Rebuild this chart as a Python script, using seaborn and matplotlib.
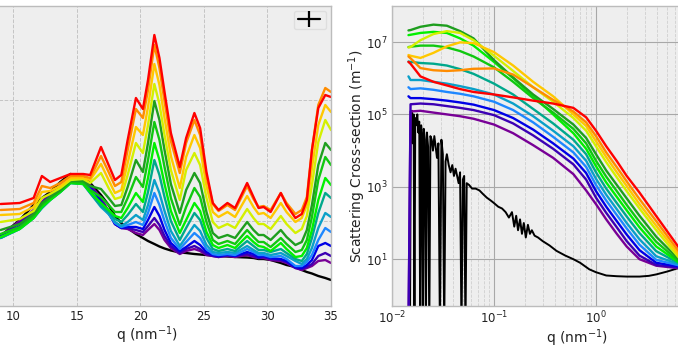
import numpy as np
import pandas as pd
import matplotlib
matplotlib.use("Agg")
import matplotlib.pyplot as plt
import seaborn as sns
from matplotlib.lines import Line2D
from matplotlib.ticker import FixedLocator, NullFormatter, NullLocator, LogFormatterSciNotation

# ---------------- data ----------------
samples = ["black", "purple", "indigo", "blue", "dodger", "cyan", "teal",
           "lime", "green", "darkgreen", "yellowgreen", "gold", "orange", "red"]
colors = ["#000000", "#780096", "#3c00b4", "#0000e6", "#1e88ff", "#0aa0c8", "#00a88c",
          "#00f000", "#10c810", "#1e9e1e", "#d4f000", "#ffc800", "#ff8c00", "#ff0000"]

# WAXS panel (left), intensity in arbitrary units
q_waxs = [9.0, 10.5, 11.6, 12.25, 12.9, 13.7, 14.5, 15.5, 16.05, 16.9, 17.5, 18.0, 18.5, 19.0,
          19.65, 20.2, 20.6, 21.1, 21.5, 21.9, 22.4, 23.1, 23.6, 24.25, 24.7, 25.2, 25.7, 26.15,
          26.85, 27.45, 28.4, 28.9, 29.3, 29.7, 30.25, 31.05, 31.5, 32.2, 32.7, 33.1, 33.5, 34.0,
          34.55, 35.0]
waxs_red = [138, 139, 144, 166, 160, 164, 168, 168, 167, 195, 177, 162, 167, 202, 244, 233, 262, 307,
            284, 250, 209, 175, 204, 229, 214, 170, 139, 132, 139, 134, 159, 145, 134, 135, 130, 149,
            137, 124, 128, 142, 192, 234, 247, 245]
waxs_orange = [132, 133, 139, 156, 154, 159, 166, 166, 164, 186, 170, 156, 160, 192, 233, 224, 252, 297,
               274, 241, 201, 169, 199, 222, 207, 166, 138, 131, 137, 132, 156, 143, 135, 136, 132, 149,
               139, 128, 132, 145, 192, 237, 254, 250]
waxs_gold = [127, 128, 135, 150, 151, 156, 164, 164, 162, 178, 162, 149, 152, 179, 215, 207, 235, 278,
             257, 224, 186, 154, 185, 207, 194, 156, 130, 125, 130, 125, 146, 135, 128, 129, 124, 139,
             130, 120, 124, 137, 174, 217, 237, 230]
waxs_yellowgreen = [120, 123, 131, 144, 148, 154, 162, 163, 159, 169, 154, 143, 145, 167, 199, 189, 217,
                    258, 238, 207, 172, 142, 172, 189, 177, 144, 120, 114, 118, 114, 133, 124, 118, 118,
                    113, 126, 118, 109, 113, 126, 157, 200, 222, 212]
waxs_darkgreen = [112, 118, 128, 139, 145, 152, 161, 161, 156, 153, 144, 136, 137, 155, 182, 170, 199,
                  241, 222, 192, 158, 129, 152, 169, 159, 130, 109, 104, 107, 104, 120, 112, 107, 107,
                  102, 112, 105, 97, 100, 112, 137, 177, 199, 192]
waxs_green = [108, 115, 126, 137, 144, 151, 160, 159, 152, 145, 137, 130, 130, 144, 165, 155, 182, 220,
              202, 175, 144, 117, 135, 154, 145, 120, 102, 98, 101, 98, 112, 105, 100, 100, 95, 104,
              98, 90, 92, 102, 125, 162, 185, 177]
waxs_lime = [105, 113, 124, 135, 142, 150, 159, 158, 150, 139, 132, 126, 124, 134, 149, 140, 164, 199,
             182, 158, 131, 109, 122, 139, 131, 110, 97, 94, 97, 94, 106, 100, 96, 95, 91, 99, 93, 85,
             86, 94, 112, 142, 164, 157]
waxs_teal = [104, 113, 124, 134, 142, 150, 159, 158, 149, 136, 130, 123, 120, 127, 138, 130, 150, 182,
             167, 145, 121, 102, 114, 129, 122, 104, 93, 91, 93, 91, 101, 96, 92, 92, 90, 93, 89, 83,
             81, 88, 104, 129, 149, 144]
waxs_cyan = [104, 113, 124, 134, 142, 150, 159, 158, 149, 135, 128, 120, 116, 120, 127, 122, 137, 162,
             149, 131, 111, 96, 105, 117, 111, 97, 90, 89, 90, 89, 96, 92, 89, 89, 87, 89, 86, 81, 78,
             83, 94, 114, 129, 125]
waxs_dodger = [104, 114, 125, 135, 143, 151, 160, 159, 152, 137, 128, 119, 115, 117, 120, 117, 129, 149,
               137, 121, 104, 93, 100, 109, 104, 93, 88, 87, 88, 87, 93, 90, 87, 87, 85, 86, 83, 76, 76,
               80, 87, 102, 114, 110]
waxs_blue = [105, 116, 127, 137, 145, 153, 162, 160, 154, 140, 129, 118, 114, 115, 115, 113, 122, 135,
             126, 112, 99, 91, 95, 101, 97, 90, 87, 86, 87, 86, 90, 88, 85, 86, 84, 83, 81, 75, 74, 77,
             82, 96, 99, 96]
waxs_indigo = [106, 119, 130, 139, 147, 155, 164, 161, 156, 142, 130, 118, 114, 114, 112, 110, 116, 124,
               117, 106, 96, 89, 93, 96, 93, 88, 86, 85, 87, 86, 88, 86, 84, 85, 83, 82, 80, 74, 73, 75,
               78, 86, 89, 86]
waxs_purple = [106, 121, 132, 140, 148, 156, 166, 162, 157, 144, 131, 118, 114, 113, 109, 107, 112, 118,
               112, 102, 94, 88, 91, 93, 91, 87, 86, 85, 86, 85, 87, 85, 84, 84, 82, 81, 79, 74, 72, 74,
               76, 81, 82, 79]
waxs_black = [106, 122, 137, 144, 150, 160, 168, 165, 159, 147, 137, 126, 119, 114, 108, 104, 101, 98,
              95.5, 93.5, 91.5, 89.5, 89, 88, 87.5, 87, 86.5, 86, 85.5, 85, 84.5, 84, 83, 83, 82, 79,
              77, 75, 72, 70, 68.5, 66, 64, 62]

# SANS panel (right): log10 of scattering cross-section (m^-1)
q_saxs = [0.0145, 0.0152, 0.019, 0.0255, 0.0345, 0.0465, 0.063, 0.1, 0.154, 0.242, 0.38, 0.6, 0.8,
          1.0, 1.26, 1.6, 2.0, 2.67, 3.9, 6.5]
saxs_red = [6.45, 6.40, 6.05, 5.90, 5.80, 5.70, 5.62, 5.55, 5.47, 5.38, 5.30, 5.18, 4.92, 4.55, 4.12,
            3.71, 3.30, 2.84, 2.19, 1.32]
saxs_orange = [6.60, 6.55, 6.28, 6.22, 6.20, 6.22, 6.26, 6.27, 6.10, 5.75, 5.40, 5.08, 4.78, 4.40, 3.95,
               3.54, 3.15, 2.66, 2.05, 1.21]
saxs_gold = [6.64, 6.62, 6.56, 6.70, 6.88, 6.99, 6.97, 6.72, 6.35, 5.90, 5.50, 5.00, 4.68, 4.26, 3.82,
             3.40, 3.02, 2.52, 1.92, 1.12]
saxs_yellowgreen = [6.85, 6.86, 7.05, 7.22, 7.30, 7.25, 7.05, 6.62, 6.20, 5.75, 5.35, 4.90, 4.55, 4.12,
                    3.68, 3.26, 2.88, 2.40, 1.80, 1.04]
saxs_darkgreen = [7.32, 7.33, 7.42, 7.48, 7.45, 7.30, 7.10, 6.50, 6.02, 5.55, 5.15, 4.72, 4.35, 3.90,
                  3.45, 3.05, 2.68, 2.20, 1.62, 0.99]
saxs_green = [6.86, 6.87, 6.90, 6.90, 6.85, 6.75, 6.60, 6.30, 5.90, 5.45, 5.05, 4.60, 4.20, 3.72, 3.28,
              2.88, 2.50, 2.03, 1.48, 0.94]
saxs_lime = [7.19, 7.20, 7.25, 7.28, 7.25, 7.10, 6.90, 6.45, 6.00, 5.50, 5.00, 4.48, 4.05, 3.57, 3.12,
             2.72, 2.35, 1.88, 1.35, 0.91]
saxs_teal = [6.46, 6.45, 6.42, 6.40, 6.35, 6.25, 6.12, 5.85, 5.55, 5.15, 4.75, 4.30, 3.90, 3.40, 2.95,
             2.55, 2.18, 1.72, 1.22, 0.89]
saxs_cyan = [6.05, 5.95, 5.95, 5.90, 5.85, 5.78, 5.70, 5.55, 5.30, 4.95, 4.55, 4.12, 3.72, 3.22, 2.78,
             2.38, 2.00, 1.55, 1.08, 0.86]
saxs_dodger = [5.75, 5.70, 5.72, 5.68, 5.62, 5.57, 5.50, 5.35, 5.12, 4.78, 4.38, 3.95, 3.55, 3.05, 2.62,
               2.22, 1.85, 1.40, 0.98, 0.83]
saxs_blue = [5.50, 5.45, 5.45, 5.42, 5.38, 5.33, 5.27, 5.12, 4.90, 4.58, 4.20, 3.78, 3.38, 2.88, 2.45,
             2.05, 1.68, 1.25, 0.90, 0.80]
saxs_indigo = [-1.0, 5.28, 5.30, 5.28, 5.23, 5.18, 5.12, 4.98, 4.75, 4.42, 4.05, 3.62, 3.20, 2.70, 2.28,
               1.88, 1.50, 1.10, 0.84, 0.77]
saxs_purple = [-1.0, 5.08, 5.10, 5.05, 5.00, 4.95, 4.88, 4.72, 4.48, 4.15, 3.80, 3.35, 2.90, 2.52, 2.10,
               1.70, 1.35, 1.00, 0.82, 0.75]

q_saxs_black = [0.0150, 0.0153, 0.0157, 0.0160, 0.0163, 0.0166, 0.0169, 0.0173, 0.0177, 0.0181, 0.0185,
                0.0189, 0.0193, 0.0197, 0.0201, 0.0205, 0.0210, 0.0215, 0.0220, 0.0226, 0.0232, 0.0238,
                0.0245, 0.0252, 0.0260, 0.0268, 0.0276, 0.0285, 0.0295, 0.0305, 0.0315, 0.0325, 0.0335,
                0.0345, 0.0360, 0.0375, 0.0390, 0.0405, 0.0420, 0.0435, 0.0450, 0.0465, 0.0480, 0.0495,
                0.0510, 0.0525, 0.0540, 0.0570, 0.0610, 0.0660, 0.0720, 0.0780, 0.0850, 0.0930, 0.100,
                0.110, 0.120, 0.130, 0.140, 0.150, 0.158, 0.165, 0.172, 0.180, 0.188, 0.196, 0.205,
                0.215, 0.225, 0.235, 0.250, 0.27, 0.30, 0.35, 0.41, 0.5, 0.6, 0.7, 0.86, 1.0, 1.26,
                1.6, 2.0, 2.67, 3.3, 3.9, 5.0, 6.5]
saxs_black = [-1.0, 4.9, 5.1, 4.2, 5.0, -1.0, 4.9, 4.7, 5.0, 4.5, 4.8, -1.0, 4.7, 4.4, -1.0, 4.6, 4.3,
              -1.0, 4.5, 4.1, -1.0, 4.4, 4.3, 4.0, 4.4, 4.1, 3.8, 4.2, -1.0, 4.3, 3.9, -1.0, 3.7, 3.9,
              3.6, 3.4, 3.6, 3.3, 3.5, 3.3, 3.1, 3.4, -1.0, 3.2, 3.3, -1.0, 3.1, 3.05, 2.95, 2.95, 2.9,
              2.8, 2.7, 2.62, 2.55, 2.45, 2.4, 2.3, 2.15, 2.3, 1.9, 2.2, 1.8, 2.1, 1.7, 2.0, 1.6, 1.95,
              1.7, 1.8, 1.65, 1.6, 1.5, 1.38, 1.23, 1.1, 1.0, 0.9, 0.72, 0.64, 0.55, 0.53, 0.52, 0.52,
              0.54, 0.58, 0.66, 0.76]

# ---------------- tables ----------------
waxs_series = dict(black=waxs_black, purple=waxs_purple, indigo=waxs_indigo, blue=waxs_blue,
                   dodger=waxs_dodger, cyan=waxs_cyan, teal=waxs_teal, lime=waxs_lime,
                   green=waxs_green, darkgreen=waxs_darkgreen, yellowgreen=waxs_yellowgreen,
                   gold=waxs_gold, orange=waxs_orange, red=waxs_red)
saxs_series = dict(purple=saxs_purple, indigo=saxs_indigo, blue=saxs_blue, dodger=saxs_dodger,
                   cyan=saxs_cyan, teal=saxs_teal, lime=saxs_lime, green=saxs_green,
                   darkgreen=saxs_darkgreen, yellowgreen=saxs_yellowgreen, gold=saxs_gold,
                   orange=saxs_orange, red=saxs_red)

df_w = pd.concat([pd.DataFrame({"q": q_waxs, "I": v, "sample": k}) for k, v in waxs_series.items()])
df_s = pd.concat([pd.DataFrame({"q": q_saxs, "S": 10.0 ** np.array(v), "sample": k})
                  for k, v in saxs_series.items()])
df_b = pd.DataFrame({"q": q_saxs_black, "S": 10.0 ** np.array(saxs_black)})
pal = dict(zip(samples, colors))

# ---------------- style ----------------
sns.set_theme(style="darkgrid")
plt.rcParams.update({
    "font.family": ["DejaVu Sans"],
    "axes.facecolor": "#eeeeee",
    "axes.edgecolor": "#bcbcbc",
    "axes.linewidth": 1.0,
    "xtick.direction": "in",
    "ytick.direction": "in",
    "xtick.labelsize": 8.5,
    "ytick.labelsize": 8.5,
})

W, H = 678, 352
fig = plt.figure(figsize=(W / 100, H / 100), dpi=100)
fig.patch.set_facecolor("white")

# left axes: q 6..35 ; pixel 10->13.3, 35->331
px_per_q = (331 - 13.3) / 25
left_px = 13.3 - 4 * px_per_q
ax1 = fig.add_axes([left_px / W, (H - 306) / H, (331 - left_px) / W, 300 / H])
# right axes: log q; 102 px per decade starting at 392
dec_px = 102.0
x_hi = 10 ** (np.log10(0.01) + (761 - 392) / dec_px)
ax2 = fig.add_axes([392 / W, (H - 306) / H, (761 - 392) / W, 300 / H])

for ax in (ax1, ax2):
    ax.set_facecolor("#eeeeee")
    for s in ax.spines.values():
        s.set_visible(True)
        s.set_color("#bcbcbc")
        s.set_linewidth(1.0)
    ax.tick_params(which="both", direction="in", length=3.5, width=0.8, color="#555555",
                   labelcolor="#222222", pad=3)

# ---- left panel ----
sns.lineplot(data=df_w, x="q", y="I", hue="sample", hue_order=samples, palette=pal,
             estimator=None, sort=False, lw=1.7, legend=False, ax=ax1)
ax1.set_xlim(6, 35)
ax1.set_ylim(36, 336)
ax1.xaxis.set_major_locator(FixedLocator([10, 15, 20, 25, 30, 35]))
ax1.yaxis.set_major_locator(FixedLocator([121, 242]))
ax1.tick_params(axis="y", labelleft=False)
ax1.grid(True, which="major", color="#c4c4c4", linestyle="--", linewidth=0.7)
ax1.set_xlabel("q (nm$^{-1}$)", fontsize=10, color="#222222")
ax1.xaxis.set_label_coords(0.5, -0.06)
ax1.set_ylabel("")
h = Line2D([], [], color="black", lw=1.6, marker="|", markersize=11, markeredgewidth=1.6)
leg = ax1.legend(handles=[h], labels=[""], loc="upper right", fontsize=8, handlelength=2.0,
                 borderpad=0.35, handletextpad=0.2, borderaxespad=0.45, fancybox=True,
                 framealpha=0.9, facecolor="#eeeeee", edgecolor="#dddddd")

# ---- right panel ----
ax2.set_xscale("log")
ax2.set_yscale("log")
sns.lineplot(data=df_b, x="q", y="S", color="black", estimator=None, sort=False, lw=1.4, ax=ax2)
sns.lineplot(data=df_s, x="q", y="S", hue="sample", hue_order=samples[1:], palette=pal,
             estimator=None, sort=False, lw=1.7, legend=False, ax=ax2)
ax2.set_xlim(0.01, x_hi)
y_lo = 10 ** (7 - (306 - 42) / 36.2)
y_hi = 10 ** (7 + (42 - 6) / 36.2)
ax2.set_ylim(y_lo, y_hi)
ax2.xaxis.set_major_locator(FixedLocator([1e-2, 1e-1, 1e0]))
ax2.xaxis.set_minor_locator(FixedLocator([m * 10.0 ** e for e in (-2, -1, 0, 1) for m in range(2, 10)]))
ax2.xaxis.set_minor_formatter(NullFormatter())
ax2.xaxis.set_major_formatter(LogFormatterSciNotation())
ax2.yaxis.set_major_locator(FixedLocator([1e1, 1e3, 1e5, 1e7]))
ax2.yaxis.set_minor_locator(NullLocator())
ax2.yaxis.set_major_formatter(LogFormatterSciNotation())
ax2.grid(True, which="major", color="#a8a8a8", linestyle="-", linewidth=0.8)
ax2.grid(True, which="minor", axis="x", color="#cfcfcf", linestyle="--", linewidth=0.6)
ax2.set_xlabel("q (nm$^{-1}$)", fontsize=10, color="#222222")
ax2.xaxis.set_label_coords(0.5, -0.07)
ax2.set_ylabel("Scattering Cross-section (m$^{-1}$)", fontsize=10, color="#222222", labelpad=-1)

fig.savefig("out.png", dpi=100)
